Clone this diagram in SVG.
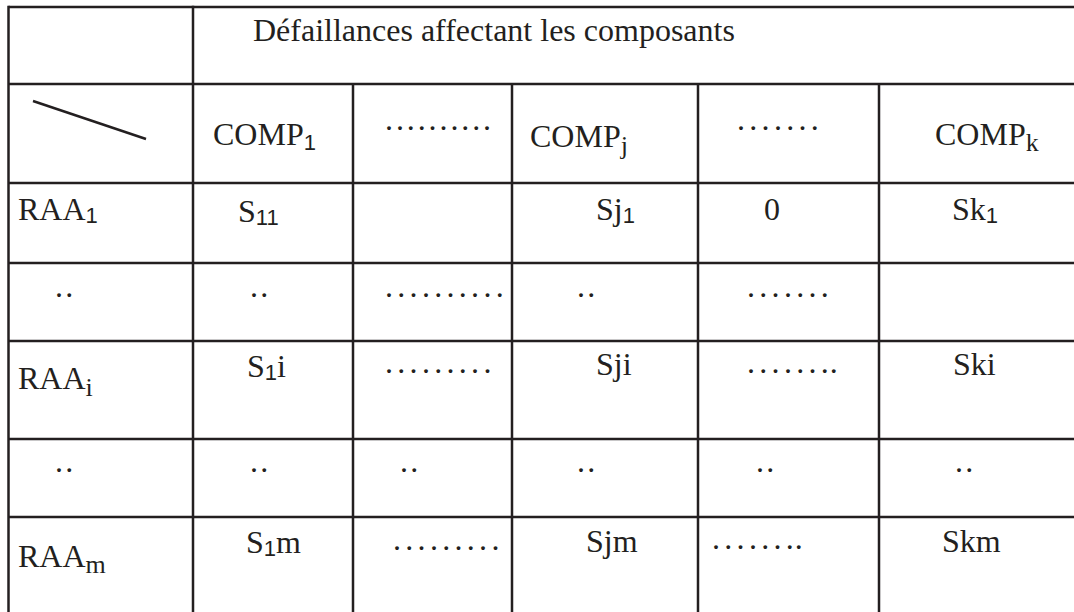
<svg xmlns="http://www.w3.org/2000/svg" width="1074" height="612" viewBox="0 0 1074 612">
<style>
.grid line{stroke:#231f20;stroke-width:2.5}
text{font-family:"Liberation Serif","Times New Roman",serif;font-size:32px;fill:#231f20}
.sub1{font-family:"Liberation Sans",Arial,sans-serif;font-size:22px}
.subl{font-size:26px}
.d1{letter-spacing:2.9px}
.d2{letter-spacing:4.3px}
.dd{letter-spacing:2.3px}
</style>
<rect width="1074" height="612" fill="#fff"/>
<g id="grid" class="grid">
<line x1="8.5" y1="7" x2="1074" y2="7"/>
<line x1="8.5" y1="84" x2="1074" y2="84"/>
<line x1="8.5" y1="183" x2="1074" y2="183"/>
<line x1="8.5" y1="263" x2="1074" y2="263"/>
<line x1="8.5" y1="341" x2="1074" y2="341"/>
<line x1="8.5" y1="439" x2="1074" y2="439"/>
<line x1="8.5" y1="517" x2="1074" y2="517"/>
<line x1="8.5" y1="5.8" x2="8.5" y2="612"/>
<line x1="193" y1="5.8" x2="193" y2="612"/>
<line x1="353" y1="84" x2="353" y2="612"/>
<line x1="512" y1="84" x2="512" y2="612"/>
<line x1="698" y1="84" x2="698" y2="612"/>
<line x1="879" y1="84" x2="879" y2="612"/>
<line x1="33" y1="101" x2="146" y2="139" stroke-width="1.6"/>
</g>
<g id="header"><text x="253" y="41">Défaillances affectant les composants</text></g>
<g id="row-comp">
<text x="213" y="145">COMP<tspan class="sub1" font-size="25" dy="5">1</tspan></text>
<text x="385" y="130" class="d1">..........</text>
<text x="530" y="147">COMP<tspan class="subl" dy="7">j</tspan></text>
<text x="737" y="130" class="d2">.......</text>
<text x="935" y="145">COMP<tspan class="subl" dy="6">k</tspan></text>
</g>
<g id="row-raa1">
<text x="18" y="220">RAA<tspan class="sub1" dy="3">1</tspan></text>
<text x="238" y="222">S<tspan class="sub1" dy="3">11</tspan></text>
<text x="596" y="220">Sj<tspan class="sub1" dy="3">1</tspan></text>
<text x="764" y="220">0</text>
<text x="952" y="220">Sk<tspan class="sub1" dy="3">1</tspan></text>
</g>
<g id="row-dots1">
<text x="55" y="297" class="dd">..</text>
<text x="250" y="297" class="dd">..</text>
<text x="385" y="297" class="d2">..........</text>
<text x="577" y="297" class="dd">..</text>
<text x="747" y="297" class="d2">.......</text>
</g>
<g id="row-raai">
<text x="18" y="389">RAA<tspan class="subl" dy="7">i</tspan></text>
<text x="247" y="377">S<tspan class="sub1" dy="3">1</tspan><tspan dy="-3">i</tspan></text>
<text x="385" y="373" class="d2">.........</text>
<text x="596" y="375">Sji</text>
<text x="747" y="373" class="d2">......<tspan letter-spacing="1">..</tspan></text>
<text x="953" y="375">Ski</text>
</g>
<g id="row-dots2">
<text x="55" y="472" class="dd">..</text>
<text x="250" y="472" class="dd">..</text>
<text x="400" y="472" class="dd">..</text>
<text x="577" y="472" class="dd">..</text>
<text x="756" y="472" class="dd">..</text>
<text x="955" y="472" class="dd">..</text>
</g>
<g id="row-raam">
<text x="18" y="567">RAA<tspan class="subl" dy="6">m</tspan></text>
<text x="246" y="553">S<tspan class="sub1" dy="3">1</tspan><tspan dy="-3">m</tspan></text>
<text x="393" y="550" class="d2">.........</text>
<text x="586" y="552">Sjm</text>
<text x="712" y="549" class="d2">......<tspan letter-spacing="1">..</tspan></text>
<text x="942" y="552">Skm</text>
</g>
</svg>
